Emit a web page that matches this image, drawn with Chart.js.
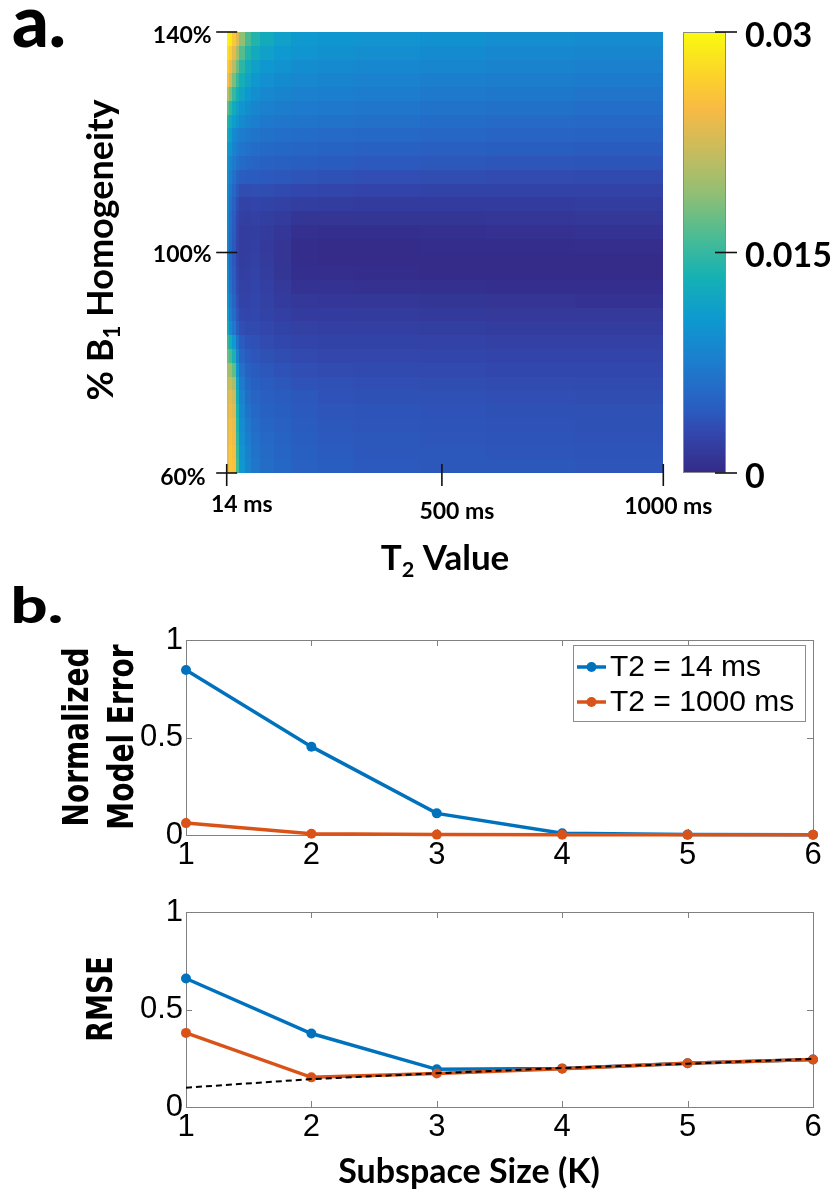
<!DOCTYPE html>
<html><head><meta charset="utf-8">
<script src="https://cdn.jsdelivr.net/npm/chart.js@4.4.1/dist/chart.umd.min.js"></script>
<style>
html,body{margin:0;padding:0;background:#fff;}
#wrap{position:relative;width:833px;height:1192px;overflow:hidden;background:#fff;}
canvas{position:absolute;left:0;}
</style></head><body><div id="wrap">
<canvas id="cHeat" width="833" height="600" style="top:0px"></canvas>
<canvas id="cErr" width="833" height="320" style="top:570px"></canvas>
<canvas id="cRmse" width="833" height="302" style="top:890px"></canvas>
</div>
<script>
// ---------------- DATA ----------------
// Panel a: model error (x 1e-3) over T2 (ms) and B1 homogeneity (%)
const T2_EDGES_MS = [14,20,27,34,42,55,70,90,120,160,220,300,450,600,800,1000];
const B1_EDGES_PCT = [140,137.5,135,132.5,130,127.5,125,122.5,120,117.5,115,112.5,110,107.5,105,102.5,100,97.5,95,92.5,90,87.5,85,82.5,80,77.5,75,72.5,70,67.5,65,62.5,60];
const MODEL_ERROR_PERMILLE = [
 [29.5,28.5,26,23,19,16,14,12.5,11.3,10.6,10.2,9.9,9.6,9.3,9.1],
 [28,26.5,23.5,20,16.5,14,12.5,11.3,10.5,10,9.6,9.3,9.0,8.7,8.5],
 [26.5,24.5,21,17.5,14.5,12.5,11.3,10.3,9.7,9.2,8.9,8.6,8.4,8.1,7.9],
 [25,22,18,15,13,11.5,10.3,9.5,9.0,8.6,8.3,8.0,7.7,7.5,7.3],
 [21,18,15,13,11.5,10.3,9.4,8.7,8.3,7.9,7.6,7.4,7.1,6.9,6.7],
 [17,14.5,12.5,11.2,10,9.2,8.5,7.9,7.5,7.2,7.0,6.8,6.5,6.3,6.1],
 [14,12.5,11,9.8,8.9,8.2,7.6,7.1,6.8,6.6,6.4,6.2,5.9,5.7,5.5],
 [12.5,11,9,8,7.4,7.0,6.6,6.3,6.1,5.9,5.7,5.5,5.3,5.1,5.0],
 [11,9.8,8.3,7.2,6.6,6.2,5.9,5.6,5.4,5.2,5.0,4.8,4.6,4.5,4.3],
 [10,8.5,7.2,6.2,5.7,5.4,5.1,4.9,4.7,4.5,4.3,4.1,3.9,3.8,3.7],
 [9.5,7.5,6.2,5.0,4.4,4.3,4.2,4.1,3.9,3.7,3.5,3.3,3.2,3.1,3.0],
 [9.0,6.8,5.4,4.0,3.2,3.2,3.3,3.2,3.0,2.8,2.6,2.5,2.4,2.4,2.3],
 [8.8,6.2,4.8,3.2,2.4,2.3,2.5,2.4,2.2,1.9,1.8,1.7,1.7,1.7,1.8],
 [8.6,5.9,4.4,2.8,2.0,1.9,2.1,1.9,1.6,1.1,1.0,1.1,1.1,1.2,1.3],
 [8.5,5.7,4.2,2.6,1.8,1.8,1.9,1.6,1.2,0.6,0.5,0.5,0.6,0.7,0.8],
 [8.4,5.6,4.0,2.5,1.8,1.8,2.0,1.5,1.0,0.3,0.2,0.2,0.3,0.3,0.4],
 [8.5,5.6,4.0,2.5,1.8,1.9,2.2,1.6,1.0,0.3,0.2,0.1,0.1,0.2,0.2],
 [8.8,5.8,4.2,2.6,1.9,2.0,2.4,1.8,1.1,0.5,0.4,0.3,0.2,0.2,0.2],
 [9.3,6.2,4.6,2.9,2.1,2.1,2.5,2.0,1.4,0.9,0.8,0.7,0.6,0.5,0.5],
 [10,6.8,5.2,3.3,2.4,2.3,2.6,2.2,1.7,1.3,1.2,1.2,1.1,1.0,0.9],
 [11,7.5,5.9,3.8,2.8,2.6,2.8,2.4,2.0,1.7,1.7,1.6,1.5,1.4,1.4],
 [12.5,8.8,7.0,4.5,3.3,3.0,3.0,2.7,2.4,2.1,2.0,2.0,1.9,1.8,1.8],
 [15,13,10.5,6.5,4.2,3.6,3.4,3.1,2.8,2.5,2.4,2.4,2.3,2.2,2.2],
 [17.5,16,13.5,8,5.2,4.2,3.8,3.5,3.2,2.9,2.7,2.7,2.6,2.5,2.5],
 [20,19.5,17,10,6.2,4.8,4.2,3.9,3.6,3.3,3.1,3.0,2.9,2.8,2.8],
 [21.5,22,20,11.5,7.2,5.4,4.7,4.3,3.9,3.6,3.4,3.3,3.2,3.1,3.0],
 [22.5,23.5,22,12.5,8,6.0,5.1,4.6,4.2,3.9,3.6,3.5,3.4,3.3,3.2],
 [23,24.5,23,13.5,8.6,6.5,5.5,4.9,4.5,4.1,3.8,3.7,3.6,3.5,3.4],
 [23.5,25,24,14,9.1,7.0,5.9,5.2,4.8,4.3,4.0,3.8,3.7,3.6,3.5],
 [23.5,25.5,24.5,14.5,9.5,7.4,6.2,5.5,5.0,4.5,4.1,3.9,3.8,3.7,3.6],
 [24,26,25,15,9.9,7.8,6.5,5.8,5.2,4.7,4.3,4.0,3.9,3.8,3.7],
 [24,26,25.5,15.5,10.3,8.1,6.8,6.0,5.4,4.8,4.4,4.1,4.0,3.9,3.8]
];
const T2_TICKS = [14, 500, 1000];
const T2_TICK_LABELS = ['14 ms', '500 ms', '1000 ms'];
const B1_TICKS = [140, 100, 60];
const B1_TICK_LABELS = ['140%', '100%', '60%'];
const CB_TICKS = [0, 0.015, 0.03];
const CB_TICK_LABELS = ['0', '0.015', '0.03'];

// Panel b
const K = [1, 2, 3, 4, 5, 6];
const ERR_T2_14 = [0.846, 0.453, 0.111, 0.009, 0.002, 0.001];
const ERR_T2_1000 = [0.061, 0.006, 0.002, 0.001, 0.001, 0.001];
const RMSE_T2_14 = [0.659, 0.377, 0.193, 0.198, 0.224, 0.244];
const RMSE_T2_1000 = [0.380, 0.152, 0.172, 0.196, 0.224, 0.244];
const RMSE_REF = [0.099, 0.143, 0.173, 0.200, 0.222, 0.247];
const SERIES_LABELS = ['T2 = 14 ms', 'T2 = 1000 ms'];

// ---------------- STYLE ----------------
const BLUE = '#0072BD', ORANGE = '#D95319';
const LATO = 'Lato, "Open Sans", sans-serif';
const DEJA = '"DejaVu Sans", Verdana, sans-serif';
const HELV = '"Liberation Sans", Arial, Helvetica, sans-serif';
// colour ramp as it appears in the reference colour bar
const PARULA = [
 [0.000,53,42,135],[0.095,50,72,174],[0.143,42,92,192],[0.254,28,126,206],
 [0.349,14,153,208],[0.444,21,177,180],[0.540,77,188,146],[0.635,146,191,115],
 [0.730,200,188,93],[0.825,248,186,68],[0.889,252,206,46],[1.000,249,251,14]
];
function parula(t){
  t = Math.max(0, Math.min(1, t));
  for (let i = 1; i < PARULA.length; i++) {
    const a = PARULA[i-1], b = PARULA[i];
    if (t <= b[0]) {
      const f = (t - a[0]) / (b[0] - a[0]);
      return `rgb(${Math.round(a[1]+(b[1]-a[1])*f)},${Math.round(a[2]+(b[2]-a[2])*f)},${Math.round(a[3]+(b[3]-a[3])*f)})`;
    }
  }
  return 'rgb(249,251,14)';
}
function drawParts(ctx, parts, x, y, size, family, weight, align){
  const sub = size * 0.62;
  const w = parts.map(([t, s]) => { ctx.font = `${weight} ${s ? sub : size}px ${family}`; return ctx.measureText(t).width; });
  const total = w.reduce((a, b) => a + b, 0);
  let cx = align === 'center' ? x - total / 2 : x;
  ctx.textAlign = 'left'; ctx.textBaseline = 'alphabetic';
  parts.forEach(([t, s], i) => {
    ctx.font = `${weight} ${s ? sub : size}px ${family}`;
    ctx.fillText(t, cx, s ? y + size * 0.2 : y);
    cx += w[i];
  });
}
function seg(ctx, x1, y1, x2, y2){ ctx.beginPath(); ctx.moveTo(x1, y1); ctx.lineTo(x2, y2); ctx.stroke(); }

// ---------------- PANEL a ----------------
const CB_LEFT = 683, CB_RIGHT = 726;
const B1_LABEL_NUDGE = [[0, 3.5], [0, 2], [-6, 5]];
const T2_LABEL_POS = [[15, 31.5], [15, 38.5], [5, 33.5]];
const heatPlugin = {
  id: 'heat',
  afterDraw(chart){
    const {ctx, chartArea: a, scales: {x, y, cb}} = chart;
    ctx.save();
    for (let r = 0; r < MODEL_ERROR_PERMILLE.length; r++) {
      const y0 = Math.round(y.getPixelForValue(B1_EDGES_PCT[r]));
      const y1 = Math.round(y.getPixelForValue(B1_EDGES_PCT[r+1]));
      for (let c = 0; c < T2_EDGES_MS.length - 1; c++) {
        const x0 = Math.round(x.getPixelForValue(T2_EDGES_MS[c]));
        const x1 = Math.round(x.getPixelForValue(T2_EDGES_MS[c+1]));
        ctx.fillStyle = parula(MODEL_ERROR_PERMILLE[r][c] / 1000 / cb.max);
        ctx.fillRect(x0, y0, x1 - x0, y1 - y0);
      }
    }
    const top = Math.round(cb.getPixelForValue(cb.max)), bot = Math.round(cb.getPixelForValue(cb.min));
    for (let py = top; py < bot; py++) {
      ctx.fillStyle = parula(cb.getValueForPixel(py + 0.5) / cb.max);
      ctx.fillRect(CB_LEFT, py, CB_RIGHT - CB_LEFT, 1);
    }
    ctx.strokeStyle = '#8a8a8a'; ctx.lineWidth = 1;
    ctx.strokeRect(CB_LEFT + 0.5, top + 0.5, CB_RIGHT - CB_LEFT - 1, bot - top - 1);
    ctx.strokeStyle = '#111'; ctx.lineWidth = 1.6; ctx.fillStyle = '#000';
    ctx.font = `bold 34px ${LATO}`; ctx.textAlign = 'left'; ctx.textBaseline = 'middle';
    CB_TICKS.forEach((v, i) => {
      const py = cb.getPixelForValue(v);
      seg(ctx, CB_RIGHT - 11, py, CB_RIGHT + 11, py);
      ctx.fillText(CB_TICK_LABELS[i], 745, py + 4);
    });
    ctx.font = `bold 23px ${LATO}`;
    B1_TICKS.forEach((v, i) => {
      const py = y.getPixelForValue(v);
      seg(ctx, a.left - 10.5, py, a.left + 10.5, py);
      ctx.textAlign = 'right';
      ctx.fillText(B1_TICK_LABELS[i], a.left - 15 + B1_LABEL_NUDGE[i][0], py + B1_LABEL_NUDGE[i][1]);
    });
    T2_TICKS.forEach((v, i) => {
      const px = x.getPixelForValue(v);
      seg(ctx, px, a.bottom - 9, px, a.bottom + 13);
      ctx.textAlign = 'center';
      ctx.fillText(T2_TICK_LABELS[i], px + T2_LABEL_POS[i][0], a.bottom + T2_LABEL_POS[i][1]);
    });
    ctx.fillStyle = '#000';
    ctx.font = `900 72px ${LATO}`; ctx.textAlign = 'left'; ctx.textBaseline = 'alphabetic';
    ctx.fillText('a.', 12, 47);
    drawParts(ctx, [['T', 0], ['2', 1], [' Value', 0]], 445, 570, 35, LATO, 'bold', 'center');
    ctx.save(); ctx.translate(113, 250); ctx.rotate(-Math.PI / 2);
    drawParts(ctx, [['% B', 0], ['1', 1], [' Homogeneity', 0]], 0, 0, 36, LATO, 'bold', 'center');
    ctx.restore();
    ctx.restore();
  }
};
new Chart(document.getElementById('cHeat'), {
  type: 'scatter',
  data: { datasets: [] },
  options: {
    responsive: false, animation: false, devicePixelRatio: 1, events: [],
    layout: { padding: { left: 226.7, top: 32, right: 833 - 663.3, bottom: 600 - 473 } },
    plugins: { legend: { display: false }, tooltip: { enabled: false } },
    scales: {
      x: { type: 'linear', min: 14, max: 1000, display: false },
      y: { type: 'linear', min: 60, max: 140, display: false },
      cb: { type: 'linear', axis: 'y', position: 'right', min: 0, max: 0.03, display: false }
    }
  },
  plugins: [heatPlugin]
});

// ---------------- PANEL b ----------------
const boxPlugin = {
  id: 'matBox',
  beforeDatasetsDraw(chart){
    const {ctx, chartArea: a, scales: {x, y}} = chart;
    ctx.save();
    ctx.strokeStyle = '#808080'; ctx.lineWidth = 1;
    ctx.strokeRect(Math.round(a.left) + 0.5, Math.round(a.top) + 0.5, Math.round(a.right - a.left), Math.round(a.bottom - a.top));
    x.ticks.forEach(t => {
      const px = Math.round(x.getPixelForValue(t.value)) + 0.5;
      seg(ctx, px, a.bottom, px, a.bottom - 6); seg(ctx, px, a.top, px, a.top + 6);
    });
    y.ticks.forEach(t => {
      const py = Math.round(y.getPixelForValue(t.value)) + 0.5;
      seg(ctx, a.left, py, a.left + 6, py); seg(ctx, a.right, py, a.right - 6, py);
    });
    ctx.restore();
  }
};
function series(label, vals, color, order, extra){
  return Object.assign({
    label, data: K.map((k, i) => ({ x: k, y: vals[i] })),
    borderColor: color, backgroundColor: color, borderWidth: 3.5,
    pointRadius: 5, pointHoverRadius: 5, pointBorderWidth: 0, pointBackgroundColor: color,
    tension: 0, clip: false, order
  }, extra || {});
}
function lineChart(id, datasets, areaTop, areaBottom, canvasH, plugins){
  const tickFont = { family: HELV, size: 31 };
  return new Chart(document.getElementById(id), {
    type: 'line',
    data: { datasets },
    options: {
      responsive: false, animation: false, devicePixelRatio: 1, events: [],
      layout: { padding: { left: 0, right: 20, top: areaTop, bottom: 0 } },
      plugins: { legend: { display: false }, tooltip: { enabled: false } },
      scales: {
        x: { type: 'linear', min: 1, max: 6, border: { display: false },
             grid: { display: false, drawTicks: false, tickLength: 0 },
             ticks: { stepSize: 1, padding: 2, color: '#000', font: tickFont, maxRotation: 0, autoSkip: false },
             afterFit(s){ s.height = canvasH - areaBottom; } },
        y: { type: 'linear', min: 0, max: 1, border: { display: false },
             grid: { display: false, drawTicks: false, tickLength: 0 },
             ticks: { stepSize: 0.5, padding: 3, color: '#000', font: tickFont, callback: v => String(v) },
             afterFit(s){ s.width = 186; } }
      }
    },
    plugins: [boxPlugin].concat(plugins)
  });
}
const ERR_TOP = 570;
const legendPlugin = {
  id: 'matLegend',
  afterDraw(chart){
    const {ctx} = chart;
    const L = 573, T = 645 - ERR_TOP, R = 805, B = 721 - ERR_TOP;
    ctx.save();
    ctx.fillStyle = '#fff'; ctx.fillRect(L, T, R - L, B - T);
    ctx.strokeStyle = '#8c8c8c'; ctx.lineWidth = 1; ctx.strokeRect(L + 0.5, T + 0.5, R - L, B - T);
    chart.data.datasets.slice(0, 2).forEach((d, i) => {
      const cy = 667 - ERR_TOP + i * 35;
      ctx.strokeStyle = d.borderColor; ctx.lineWidth = 3.5; seg(ctx, L + 4, cy, L + 33, cy);
      ctx.fillStyle = d.borderColor; ctx.beginPath(); ctx.arc(L + 18.5, cy, 5, 0, Math.PI * 2); ctx.fill();
      ctx.fillStyle = '#000'; ctx.font = `30px ${HELV}`; ctx.textAlign = 'left'; ctx.textBaseline = 'middle';
      ctx.fillText(d.label, L + 37, cy + 1);
    });
    ctx.fillStyle = '#000';
    ctx.save(); ctx.translate(10.6, 623 - ERR_TOP); ctx.scale(1.3, 1);
    ctx.font = `900 50px ${LATO}`; ctx.textAlign = 'left'; ctx.textBaseline = 'alphabetic';
    ctx.fillText('b.', 0, 0); ctx.restore();
    ctx.font = `bold 28px ${DEJA}`; ctx.textAlign = 'center'; ctx.textBaseline = 'alphabetic';
    [['Normalized', 88], ['Model Error', 133]].forEach(([t, bx]) => {
      ctx.save(); ctx.translate(bx, 737 - ERR_TOP); ctx.rotate(-Math.PI / 2); ctx.scale(1, 1.27);
      ctx.fillText(t, 0, 0); ctx.restore();
    });
    ctx.restore();
  }
};
lineChart('cErr', [
  series(SERIES_LABELS[0], ERR_T2_14, BLUE, 3),
  series(SERIES_LABELS[1], ERR_T2_1000, ORANGE, 2)
], 640 - ERR_TOP, 835 - ERR_TOP, 320, [legendPlugin]);

const RM_TOP = 890;
const rmseTitles = {
  id: 'rmseTitles',
  afterDraw(chart){
    const {ctx} = chart;
    ctx.save(); ctx.fillStyle = '#000';
    ctx.font = `bold 27px ${DEJA}`; ctx.textAlign = 'center'; ctx.textBaseline = 'alphabetic';
    ctx.save(); ctx.translate(111.6, 999 - RM_TOP); ctx.rotate(-Math.PI / 2); ctx.scale(1, 1.3);
    ctx.fillText('RMSE', 0, 0); ctx.restore();
    ctx.font = `bold 34px ${LATO}`;
    ctx.fillText('Subspace Size (K)', 469, 1183 - RM_TOP);
    ctx.restore();
  }
};
lineChart('cRmse', [
  series(SERIES_LABELS[0], RMSE_T2_14, BLUE, 3),
  series(SERIES_LABELS[1], RMSE_T2_1000, ORANGE, 2),
  series('reference', RMSE_REF, '#000', 1, { borderWidth: 2, borderDash: [6, 4], pointRadius: 0, pointHoverRadius: 0 })
], 912 - RM_TOP, 1107 - RM_TOP, 302, [rmseTitles]);
</script>
</body></html>
